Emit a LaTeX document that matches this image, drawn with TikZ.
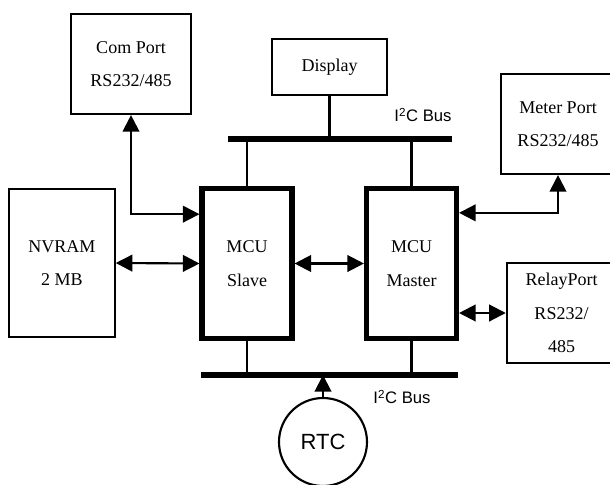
\documentclass[tikz,border=0pt]{standalone}
\usepackage{fontspec}
\setmainfont{Liberation Serif}
\newfontfamily\arialfont{Liberation Sans}
\usetikzlibrary{arrows.meta, positioning, calc}
\tikzset{
  box/.style = {rectangle, draw, line width=1.6pt, align=center,
    font=\fontsize{13.5}{25}\selectfont},
  mcubox/.style = {box, line width=3.8pt, minimum width=67.5pt, minimum height=113pt},
  bus/.style = {line width=3.8pt},
  link/.style = {line width=1.6pt},
  arrow/.style = {line width=1.6pt, -{Triangle[length=12.5pt,width=12.5pt]}},
  biarrow/.style = {line width=1.6pt, {Triangle[length=12.5pt,width=12.5pt]}-{Triangle[length=12.5pt,width=12.5pt]}},
  buslabel/.style = {font=\arialfont\fontsize{12.5}{15}\selectfont},
}
\begin{document}
\begin{tikzpicture}[x=0.75pt, y=-0.75pt]
  \useasboundingbox (0,0) rectangle (610,485);

  % Peripherals
  \node[box, minimum width=90pt, minimum height=75pt] (compt) at (131,64) {Com Port\\RS232/485};
  \node[box, minimum width=86pt, minimum height=42pt] (disp) at (329.5,67) {Display};
  \node[box, minimum width=86pt, minimum height=75pt] (meter) at (558,124) {Meter Port\\RS232/485};
  \node[box, minimum width=79pt, minimum height=111pt] (nvram) at (62,263) {NVRAM\\2 MB};
  \node[box, minimum width=82pt, minimum height=75pt] (relay) at (561.5,313) {RelayPort\\RS232/\\485};

  % Controllers
  \node[mcubox] (slave) at (247,263.5) {MCU\\Slave};
  \node[mcubox] (master) at (411.5,263.5) {MCU\\Master};

  % RTC
  \node[circle, draw, line width=1.6pt, minimum size=66pt,
    font=\arialfont\fontsize{16.5}{20}\selectfont] (rtc) at (323,442) {RTC};

  % Buses
  \coordinate (tbL) at (228,139);
  \coordinate (tbR) at (452,139);
  \coordinate (bbL) at (201,375);
  \coordinate (bbR) at (458,375);
  \draw[bus] (tbL) -- (tbR);
  \draw[bus] (bbL) -- (bbR);
  \node[buslabel] (lbltop) at (423,115) {I\textsuperscript{2}C Bus};
  \node[buslabel] (lblbot) at (402,397) {I\textsuperscript{2}C Bus};

  % Bus drops
  \draw[link] (disp.south) -- (disp.south |- tbL);
  \draw[link] (slave.north) -- (slave.north |- tbL);
  \draw[link] (master.north) -- (master.north |- tbL);
  \draw[link] (slave.south) -- (slave.south |- bbL);
  \draw[link] (master.south) -- (master.south |- bbL);
  \draw[arrow] (rtc.north) -- (rtc.north |- bbL);

  % Data links
  \draw[biarrow] (compt.south) |- ([yshift=37pt]slave.west);
  \draw[biarrow] (nvram.east) -- (slave.west);
  \draw[biarrow] (slave.east) -- (master.west);
  \draw[biarrow] ([yshift=38pt]master.east) -| (meter.south);
  \draw[biarrow] (relay.west -| master.east) -- (relay.west);

\end{tikzpicture}
\end{document}
